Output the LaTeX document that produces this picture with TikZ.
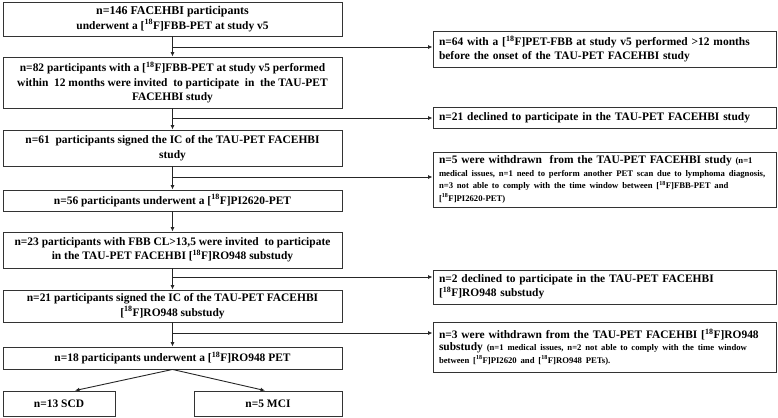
\documentclass[tikz,border=0pt]{standalone}
\usepackage{fontspec}
\setmainfont{Liberation Serif}
\usetikzlibrary{arrows.meta,calc}
\newcommand{\ef}{[\textsuperscript{18}F]}
\newcommand{\smalltxt}{\fontsize{8.7}{12.5}\selectfont}
\begin{document}
\begin{tikzpicture}[x=1bp,y=-1bp,
  box/.style={draw=black!80,line width=0.9bp,inner sep=0pt,font=\fontsize{11.5}{14.5}\selectfont\bfseries},
  lbox/.style={box,minimum width=339bp,align=center},
  rbox/.style={box,minimum width=343bp,text width=331bp,align=left},
  conn/.style={draw=black!85,line width=0.9bp},
  arr/.style={conn,-{Latex[length=4.5bp,width=4bp]}}]
\useasboundingbox (0,0) rectangle (778,417);
% left column
\node[lbox,minimum height=34bp] (b1) at (172.5,19) {\fontsize{12}{14.5}\selectfont n=146 FACEHBI participants\\underwent a \ef FBB-PET at study v5};
\node[lbox,minimum height=51bp] (b2) at (172.5,82.5) {n=82 participants with a \ef FBB-PET at study v5 performed\\within\ \ 12 months were invited\ \ to participate\ \ in\ \ the TAU-PET\\FACEHBI study};
\node[lbox,minimum height=36bp] (b3) at (172.5,148) {n=61\ \ participants signed the IC of the TAU-PET FACEHBI\\study};
\node[lbox,minimum height=21bp] (b4) at (172.5,200.5) {n=56 participants underwent a \ef PI2620-PET};
\node[lbox,minimum height=36bp] (b5) at (172.5,250) {n=23 participants with FBB CL>13,5 were invited\ \ to participate\\in the TAU-PET FACEHBI \ef RO948 substudy};
\node[lbox,minimum height=32bp] (b6) at (172.5,306) {n=21 participants signed the IC of the TAU-PET FACEHBI\\\ef RO948 substudy};
\node[lbox,minimum height=22bp] (b7) at (172.5,358) {n=18 participants underwent a \ef RO948 PET};
\node[box,minimum width=112bp,minimum height=25bp] (scd) at (59,403.5) {n=13 SCD};
\node[box,minimum width=148bp,minimum height=25bp] (mci) at (268,403.5) {n=5 MCI};
% right column
\node[rbox,minimum height=36bp] (r1) at (604.5,49) {\makebox[331bp][s]{n=64 with a \ef PET-FBB at study v5 performed >12 months}\\before the onset of the TAU-PET FACEHBI study};
\node[rbox,minimum height=21bp] (r2) at (604.5,117.5) {n=21 declined to participate in the TAU-PET FACEHBI study};
\node[rbox,minimum height=55bp] (r3) at (604.5,179.5) {n=5 were withdrawn\ \ from the TAU-PET FACEHBI study {\smalltxt (n=1\\
\mbox{medical issues, n=1 need to perform another PET scan due to lymphoma diagnosis,}\\
n=3 not able to comply with the time window between \ef FBB-PET and\\
\ef PI2620-PET)\par}};
\node[rbox,minimum height=34bp] (r4) at (604.5,287) {n=2 declined to participate in the TAU-PET FACEHBI\\\ef RO948 substudy};
\node[rbox,minimum height=50bp] (r5) at (604.5,347) {n=3 were withdrawn from the TAU-PET FACEHBI \ef RO948\\substudy {\smalltxt (n=1 medical issues, n=2 not able to comply with the time window\\
between \ef PI2620 and \ef RO948 PETs).\par}};
% junctions
\coordinate (j1) at (172.5,47);
\coordinate (j2) at (172.5,118);
\coordinate (j3) at (172.5,177);
\coordinate (j5) at (172.5,277);
\coordinate (j6) at (172.5,333);
% vertical connectors
\draw[arr] (b1.south) -- (b2.north);
\draw[arr] (b2.south) -- (b3.north);
\draw[arr] (b3.south) -- (b4.north);
\draw[arr] (b4.south) -- (b5.north);
\draw[arr] (b5.south) -- (b6.north);
\draw[arr] (b6.south) -- (b7.north);
% side branches
\draw[arr] (j1) -- (j1 -| r1.west);
\draw[arr] (j2) -- (j2 -| r2.west);
\draw[arr] (j3) -- (j3 -| r3.west);
\draw[arr] (j5) -- (j5 -| r4.west);
\draw[arr] (j6) -- (j6 -| r5.west);
% split
\draw[arr] (b7.south) -- ([xshift=16bp]scd.north);
\draw[arr] (b7.south) -- ([xshift=-3bp]mci.north);
\end{tikzpicture}
\end{document}
